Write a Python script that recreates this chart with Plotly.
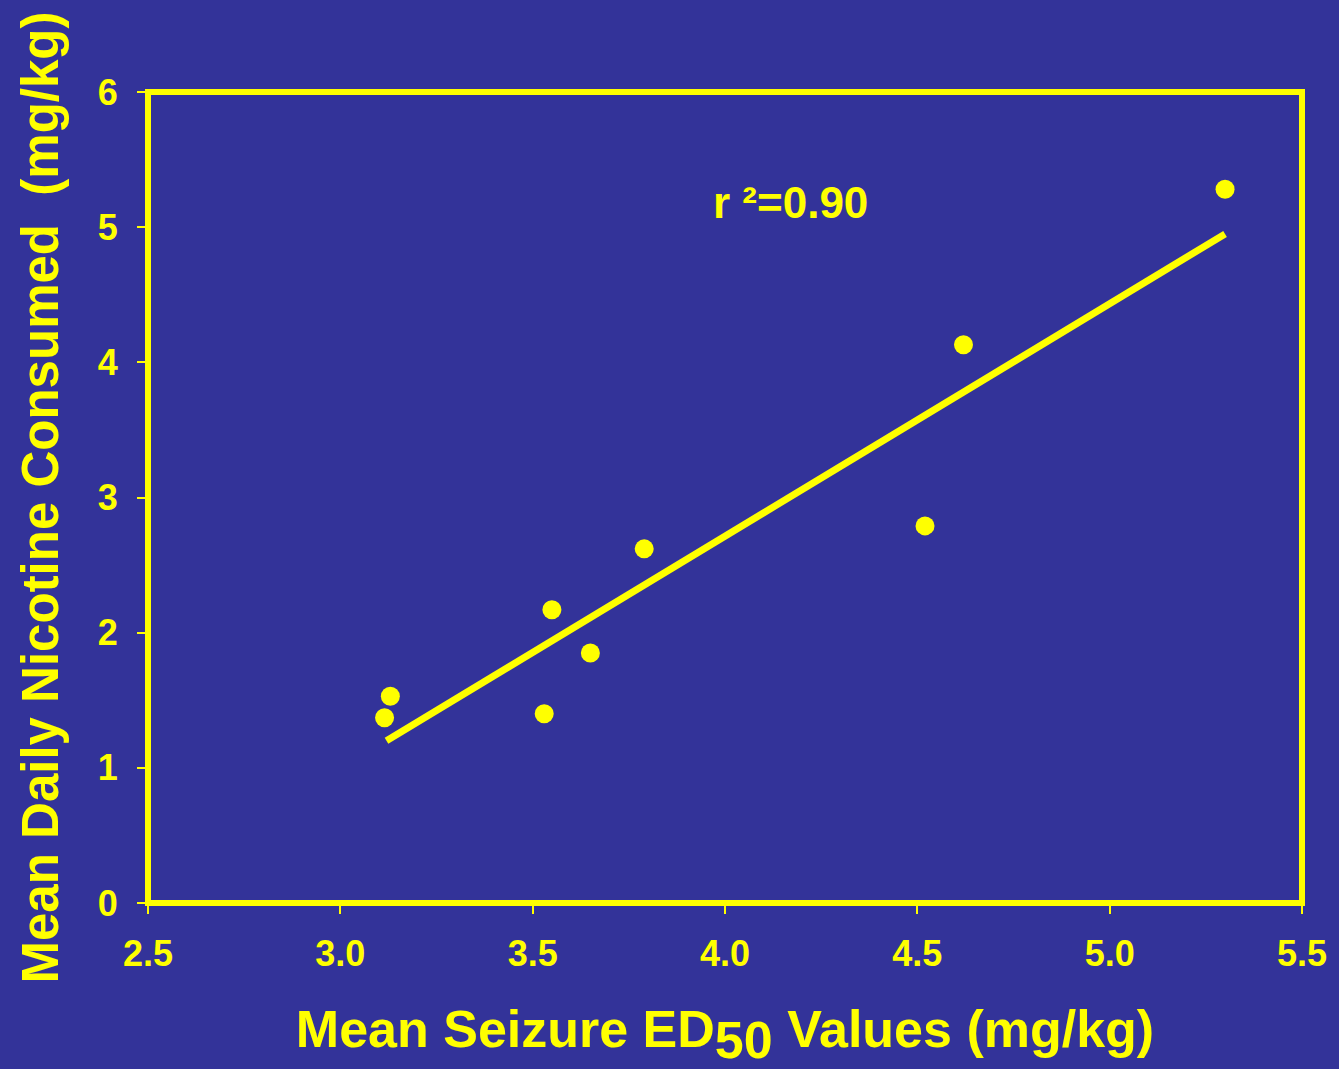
import plotly.graph_objects as go

# Mean seizure ED50 vs. mean daily nicotine consumed
ed50_values = [3.115, 3.13, 3.53, 3.55, 3.65, 3.79, 4.52, 4.62, 5.30]
nicotine_consumed = [1.37, 1.53, 1.40, 2.17, 1.85, 2.62, 2.79, 4.13, 5.28]

# Regression line end points
fit_x = [3.12, 5.30]
fit_y = [1.20, 4.95]

x_ticks = [2.5, 3.0, 3.5, 4.0, 4.5, 5.0, 5.5]
y_ticks = [0, 1, 2, 3, 4, 5, 6]

BG = "#333399"
YEL = "#FFFF00"
FONT = "Liberation Sans"

fig = go.Figure()
fig.add_trace(go.Scatter(
    x=fit_x, y=fit_y, mode="lines",
    line=dict(color=YEL, width=7), hoverinfo="skip", showlegend=False,
))
fig.add_trace(go.Scatter(
    x=ed50_values, y=nicotine_consumed, mode="markers",
    marker=dict(color=YEL, size=19, line=dict(width=0)), showlegend=False,
))

# frame centred on the plot-area edges
fig.add_shape(
    type="rect", xref="paper", yref="paper", x0=0, x1=1, y0=0, y1=1,
    line=dict(color=YEL, width=6), fillcolor="rgba(0,0,0,0)", layer="above",
)

fig.add_annotation(
    x=4.17, y=5.18, xref="x", yref="y", showarrow=False,
    text="r ²=0.90",
    font=dict(family=FONT, size=44, color=YEL, weight="bold"),
)

fig.update_layout(
    width=1339, height=1069,
    paper_bgcolor=BG, plot_bgcolor=BG,
    margin=dict(l=148, r=33, t=92, b=166),
    font=dict(family=FONT, color=YEL, weight="bold"),
    xaxis=dict(
        range=[2.5, 5.5], tickvals=x_ticks,
        ticktext=[f"{v:.1f}" for v in x_ticks],
        showgrid=False, zeroline=False, showline=False,
        ticks="outside", ticklen=10, tickwidth=2, tickcolor=YEL,
        tickfont=dict(family=FONT, size=36, color=YEL, weight="bold"),
        ticklabelstandoff=9,
        title=dict(
            text='Mean Seizure ED<sub><span style="font-size:52px">50</span></sub> Values (mg/kg)',
            font=dict(family=FONT, size=52, color=YEL, weight="bold"),
            standoff=44,
        ),
    ),
    yaxis=dict(
        range=[0, 6], tickvals=y_ticks,
        showgrid=False, zeroline=False, showline=False,
        ticks="outside", ticklen=10, tickwidth=2, tickcolor=YEL,
        tickfont=dict(family=FONT, size=36, color=YEL, weight="bold"),
        ticklabelstandoff=12,
        title=dict(
            text="Mean Daily Nicotine Consumed  (mg/kg)",
            font=dict(family=FONT, size=51, color=YEL, weight="bold"),
            standoff=22,
        ),
    ),
)

fig.write_html("out.html")
